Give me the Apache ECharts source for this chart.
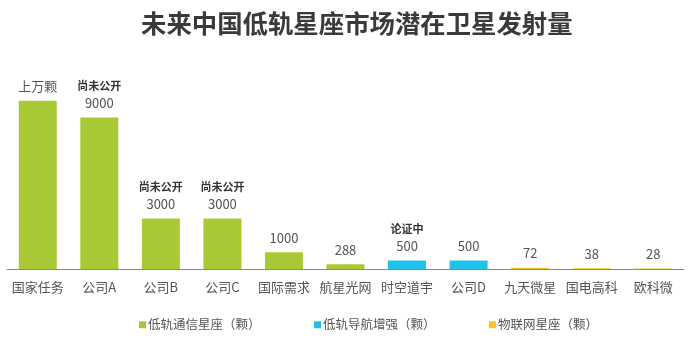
<!DOCTYPE html>
<html>
<head>
<meta charset="utf-8">
<script src="https://cdn.jsdelivr.net/npm/echarts@6/dist/echarts.min.js"></script>
<style>
  html, body { margin: 0; padding: 0; background: #fff; }
  #chart { width: 694px; height: 344px; }
</style>
</head>
<body>
<div id="chart"></div>
<script>
// Constellations and planned satellite counts
const categories = ['国家任务', '公司A', '公司B', '公司C', '国际需求', '航星光网', '时空道宇', '公司D', '九天微星', '国电高科', '欧科微'];
const commValues = [10000, 9000, 3000, 3000, 1000, 288, null, null, null, null, null];
const navValues  = [null, null, null, null, null, null, 500, 500, null, null, null];
const iotValues  = [null, null, null, null, null, null, null, null, 72, 38, 28];
// Text shown above each bar: optional bold note, then the count text
const noteTexts  = ['', '尚未公开', '尚未公开', '尚未公开', '', '', '论证中', '', '', '', ''];
const countTexts = ['上万颗', '9000', '3000', '3000', '1000', '288', '500', '500', '72', '38', '28'];
const seriesNames = ['低轨通信星座（颗）', '低轨导航增强（颗）', '物联网星座（颗）'];
const colors = ['#a9c934', '#1ec2ea', '#f4c81c'];

const font = '"Noto Sans CJK SC", "Microsoft YaHei", sans-serif';

function labelFor(idx) {
  const note = noteTexts[idx];
  const count = countTexts[idx];
  return note ? '{note|' + note + '}\n{val|' + count + '}' : '{val|' + count + '}';
}

const labelOpt = {
  show: true,
  position: 'top',
  distance: 6,
  formatter: p => labelFor(p.dataIndex),
  rich: {
    note: { fontSize: 11, fontWeight: 'bold', color: '#333', fontFamily: font, lineHeight: 17 },
    val: { fontSize: 13, color: '#555', fontFamily: font, lineHeight: 17 }
  }
};

function makeSeries(name, data, color) {
  return {
    name: name,
    type: 'bar',
    stack: 'all',
    barWidth: 38,
    data: data,
    itemStyle: { color: color },
    label: labelOpt
  };
}

// One legend block per series, spaced evenly along the bottom
const legendLefts = [134, 309, 484];
const legends = seriesNames.map((n, i) => ({
  data: [n],
  bottom: 8,
  left: legendLefts[i],
  itemWidth: 7,
  itemHeight: 7,
  icon: 'rect',
  textStyle: { fontSize: 12.5, color: '#555', fontFamily: font, padding: [0, 0, 0, -3] }
}));

const chart = echarts.init(document.getElementById('chart'));
chart.setOption({
  animation: false,
  title: {
    text: '未来中国低轨星座市场潜在卫星发射量',
    left: 136,
    top: 6,
    textStyle: { fontSize: 25.4, fontWeight: 'bold', color: '#3a3a3a', fontFamily: font }
  },
  legend: legends,
  grid: { left: 7, right: 10, top: 67, height: 202 },
  xAxis: {
    type: 'category',
    data: categories,
    axisLine: { lineStyle: { color: '#888', width: 1 } },
    axisTick: { show: false },
    axisLabel: { fontSize: 13, color: '#555', fontFamily: font, margin: 12, interval: 0 }
  },
  yAxis: {
    type: 'value',
    min: 0,
    max: 12000,
    show: false,
    splitLine: { show: false }
  },
  series: [
    makeSeries(seriesNames[0], commValues, colors[0]),
    makeSeries(seriesNames[1], navValues, colors[1]),
    makeSeries(seriesNames[2], iotValues, colors[2])
  ]
});
</script>
</body>
</html>
